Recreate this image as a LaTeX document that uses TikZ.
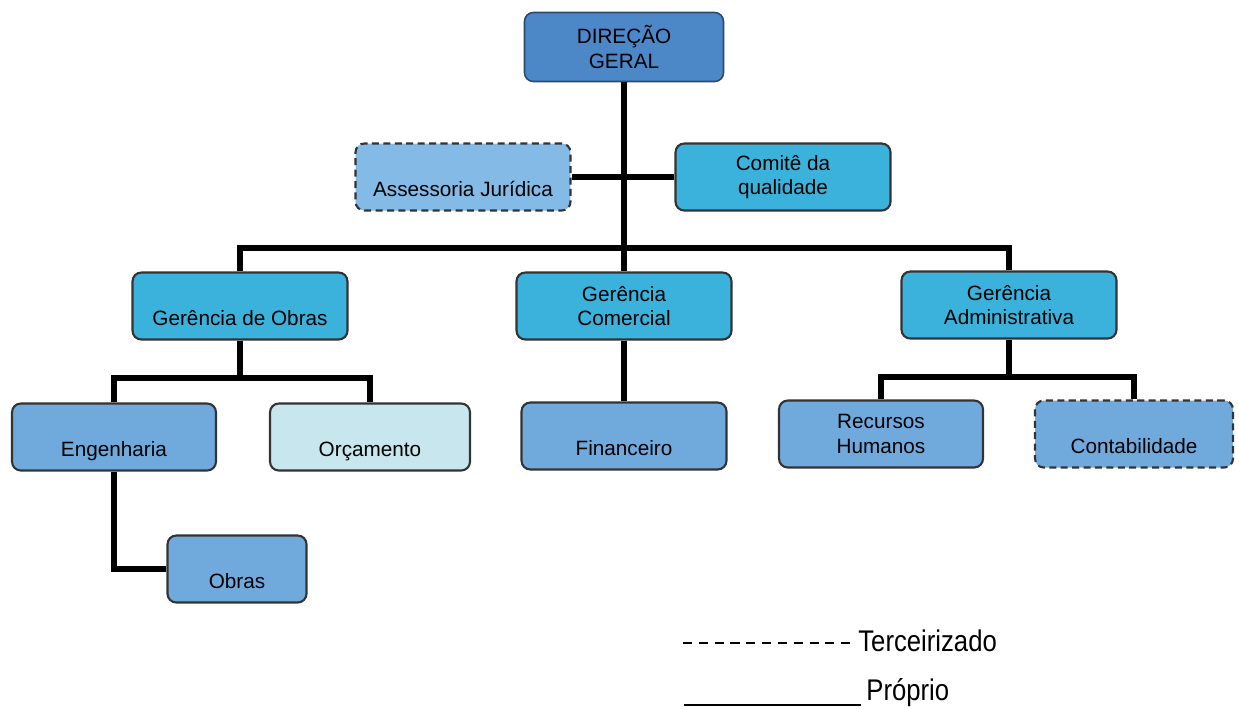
\documentclass[tikz,border=0pt]{standalone}
\usepackage{fontspec}
\setmainfont{Liberation Sans}
\newfontfamily\narrowsans[FakeStretch=0.86]{Liberation Sans}
\usetikzlibrary{positioning}

\definecolor{dirblue}{RGB}{76,135,200}
\definecolor{gercyan}{RGB}{58,178,219}
\definecolor{unitblue}{RGB}{112,170,221}
\definecolor{extblue}{RGB}{132,187,230}
\definecolor{palecyan}{RGB}{200,230,238}

\begin{document}
\begin{tikzpicture}[
    x=0.02cm, y=-0.02cm,
    box/.style={draw=black!80, line width=1.2pt, rounded corners=5pt, inner sep=0pt, minimum width=4.3cm, minimum height=1.34cm, align=center, font=\fontsize{11.8}{13.8}\selectfont},
    root/.style={box, fill=dirblue, draw=dirblue!55!black, line width=0.9pt, minimum width=3.98cm, minimum height=1.38cm},
    l1/.style={box, fill=gercyan},
    l2/.style={box, fill=unitblue},
    l3/.style={box, fill=palecyan},
    ext/.style={dash pattern=on 4pt off 2.5pt},
    low/.style={text height=23.6pt, text depth=1pt},
    link/.style={draw=black, line width=3pt},
    legend/.style={inner sep=0pt, font=\narrowsans\fontsize{17}{20}\selectfont}
]
\useasboundingbox (0,0) rectangle (1239,708);

\node[root] (dir) at (624,47) {DIREÇÃO\\GERAL};
\node[l2, ext, low, fill=extblue] (jur) at (463,177) {Assessoria Jurídica};
\node[l1] (com) at (783,177) {Comitê da\\qualidade};

\node[l1, low] (gobr) at (240,306) {Gerência de Obras};
\node[l1] (gcom) at (624,306) {Gerência\\Comercial};
\node[l1] (gadm) at (1009,305) {Gerência\\Administrativa};

\node[l2, low, minimum width=4.08cm] (eng) at (114,437) {Engenharia};
\node[l3, low, minimum width=4cm] (orc) at (370,437) {Orçamento};
\node[l2, low, minimum width=4.1cm] (fin) at (624,436) {Financeiro};
\node[l2, minimum width=4.08cm] (rh) at (881,434) {Recursos\\Humanos};
\node[l2, ext, low, minimum width=3.96cm] (cont) at (1134,434) {Contabilidade};
\node[l2, low, minimum width=2.78cm] (obr) at (237,569) {Obras};

% bus points
\coordinate (bus) at (624,248);
\coordinate (obus) at (240,378);
\coordinate (abus) at (1009,377);

\draw[link] (dir.south) -- (gcom.north);
\draw[link] (jur.east) -- (com.west);
\draw[link] (gobr.north) |- (bus) -| (gadm.north);
\draw[link] (gobr.south) -- (obus);
\draw[link] (eng.north) |- (obus) -| (orc.north);
\draw[link] (gcom.south) -- (fin.north);
\draw[link] (gadm.south) -- (abus);
\draw[link] (rh.north) |- (abus) -| (cont.north);
\draw[link] (eng.south) |- (obr.west);

% legend
\node[legend, anchor=west] (ter) at (858,641) {Terceirizado};
\node[legend, anchor=base west] (pro) at (866,700) {Próprio};
\coordinate (terline) at (683,643);
\coordinate (proline) at (684,705);
\draw[line width=1.2pt, dash pattern=on 5.2pt off 3.8pt] (terline) -- ([xshift=-2pt]terline -| ter.west);
\draw[line width=1.2pt] (proline) -- ([xshift=-3pt]proline -| pro.west);

\end{tikzpicture}
\end{document}
